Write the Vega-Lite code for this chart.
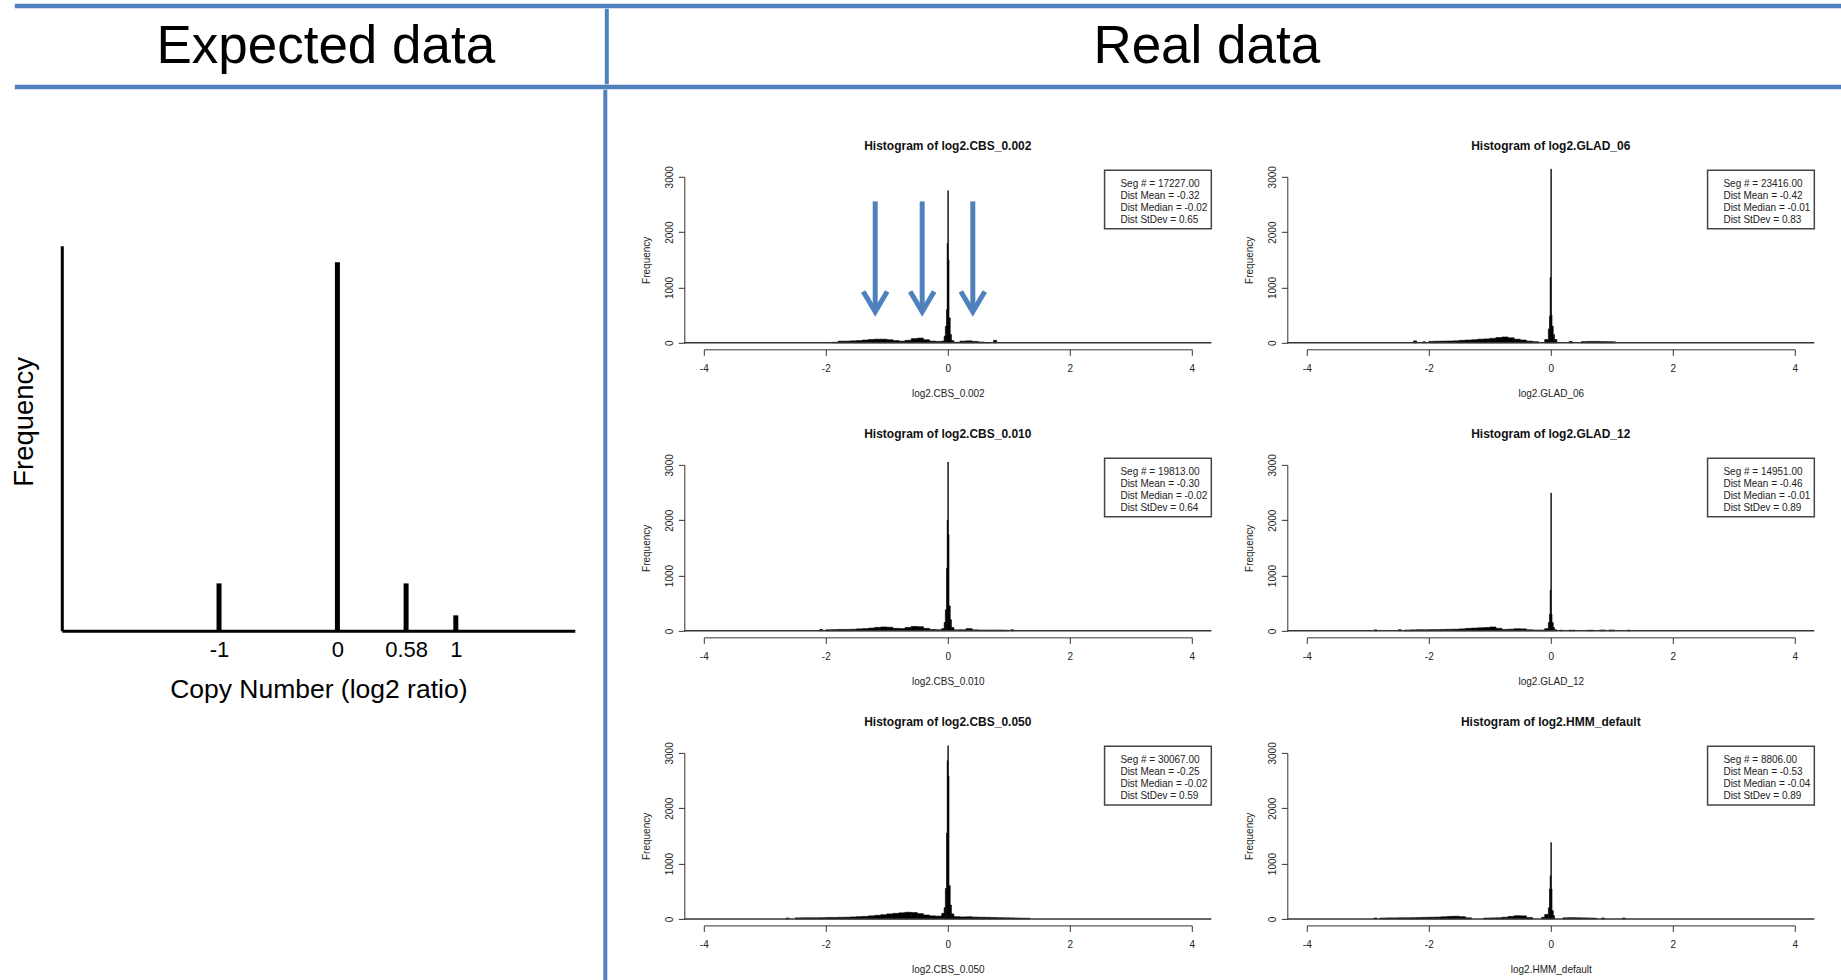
{
  "$schema": "https://vega.github.io/schema/vega-lite/v6.json",
  "background": "white",
  "padding": {"left": 8.8, "top": 3.75, "right": 0, "bottom": 0},
  "config": {
    "font": "Liberation Sans",
    "view": {"stroke": null},
    "axis": {"grid": false, "labelFont": "Liberation Sans", "titleFont": "Liberation Sans", "labelFontSize": 10, "titleFontSize": 10, "titleFontWeight": "normal", "domainColor": "#333333", "tickColor": "#333333", "labelColor": "#222222", "titleColor": "#222222"},
    "title": {"font": "Liberation Sans"},
    "text": {"font": "Liberation Sans"}
  },
  "datasets": {
    "CBS_0.002": [
      {"x0": -1.9, "x1": -1.8, "n": 10}, {"x0": -1.8, "x1": -1.7, "n": 30}, {"x0": -1.7, "x1": -1.6, "n": 30}, {"x0": -1.6, "x1": -1.5, "n": 35},
      {"x0": -1.5, "x1": -1.4, "n": 40}, {"x0": -1.4, "x1": -1.3, "n": 50}, {"x0": -1.3, "x1": -1.2, "n": 60}, {"x0": -1.2, "x1": -1.1, "n": 65},
      {"x0": -1.1, "x1": -1.0, "n": 65}, {"x0": -1.0, "x1": -0.9, "n": 55}, {"x0": -0.9, "x1": -0.8, "n": 40}, {"x0": -0.8, "x1": -0.7, "n": 30},
      {"x0": -0.7, "x1": -0.6, "n": 45}, {"x0": -0.6, "x1": -0.5, "n": 75}, {"x0": -0.5, "x1": -0.4, "n": 85}, {"x0": -0.4, "x1": -0.3, "n": 55},
      {"x0": -0.3, "x1": -0.2, "n": 30}, {"x0": -0.2, "x1": -0.1, "n": 25}, {"x0": -0.1, "x1": -0.06, "n": 30}, {"x0": -0.06, "x1": -0.04, "n": 120},
      {"x0": -0.04, "x1": -0.02, "n": 300}, {"x0": -0.02, "x1": -0.01, "n": 600}, {"x0": -0.01, "x1": 0, "n": 1800}, {"x0": 0, "x1": 0.01, "n": 2750},
      {"x0": 0.01, "x1": 0.02, "n": 1500}, {"x0": 0.02, "x1": 0.04, "n": 450}, {"x0": 0.04, "x1": 0.06, "n": 150}, {"x0": 0.06, "x1": 0.1, "n": 40},
      {"x0": 0.1, "x1": 0.2, "n": 10}, {"x0": 0.2, "x1": 0.3, "n": 30}, {"x0": 0.3, "x1": 0.4, "n": 35}, {"x0": 0.4, "x1": 0.5, "n": 25},
      {"x0": 0.5, "x1": 0.6, "n": 15}, {"x0": 0.6, "x1": 0.7, "n": 5}, {"x0": 0.75, "x1": 0.8, "n": 45}
    ],
    "GLAD_06": [
      {"x0": -2.25, "x1": -2.2, "n": 35}, {"x0": -2.1, "x1": -2.05, "n": 18}, {"x0": -2.0, "x1": -1.9, "n": 25}, {"x0": -1.9, "x1": -1.8, "n": 28},
      {"x0": -1.8, "x1": -1.7, "n": 30}, {"x0": -1.7, "x1": -1.6, "n": 32}, {"x0": -1.6, "x1": -1.5, "n": 35}, {"x0": -1.5, "x1": -1.4, "n": 45},
      {"x0": -1.4, "x1": -1.3, "n": 50}, {"x0": -1.3, "x1": -1.2, "n": 55}, {"x0": -1.2, "x1": -1.1, "n": 65}, {"x0": -1.1, "x1": -1.0, "n": 70},
      {"x0": -1.0, "x1": -0.9, "n": 80}, {"x0": -0.9, "x1": -0.8, "n": 95}, {"x0": -0.8, "x1": -0.7, "n": 105}, {"x0": -0.7, "x1": -0.6, "n": 90},
      {"x0": -0.6, "x1": -0.5, "n": 65}, {"x0": -0.5, "x1": -0.4, "n": 50}, {"x0": -0.4, "x1": -0.3, "n": 30}, {"x0": -0.3, "x1": -0.2, "n": 20},
      {"x0": -0.1, "x1": -0.04, "n": 60}, {"x0": -0.04, "x1": -0.02, "n": 250}, {"x0": -0.02, "x1": -0.01, "n": 480}, {"x0": -0.01, "x1": 0, "n": 1180},
      {"x0": 0, "x1": 0.01, "n": 3140}, {"x0": 0.01, "x1": 0.02, "n": 500}, {"x0": 0.02, "x1": 0.04, "n": 300}, {"x0": 0.04, "x1": 0.06, "n": 150},
      {"x0": 0.06, "x1": 0.1, "n": 60}, {"x0": 0.3, "x1": 0.35, "n": 25}, {"x0": 0.5, "x1": 0.6, "n": 22}, {"x0": 0.6, "x1": 0.7, "n": 25},
      {"x0": 0.7, "x1": 0.8, "n": 25}, {"x0": 0.8, "x1": 0.9, "n": 22}, {"x0": 0.9, "x1": 1.0, "n": 20}, {"x0": 1.0, "x1": 1.06, "n": 18}
    ],
    "CBS_0.010": [
      {"x0": -2.1, "x1": -2.05, "n": 25}, {"x0": -2.0, "x1": -1.9, "n": 20}, {"x0": -1.9, "x1": -1.8, "n": 22}, {"x0": -1.8, "x1": -1.7, "n": 25},
      {"x0": -1.7, "x1": -1.6, "n": 25}, {"x0": -1.6, "x1": -1.5, "n": 28}, {"x0": -1.5, "x1": -1.4, "n": 35}, {"x0": -1.4, "x1": -1.3, "n": 40},
      {"x0": -1.3, "x1": -1.2, "n": 50}, {"x0": -1.2, "x1": -1.1, "n": 62}, {"x0": -1.1, "x1": -1.0, "n": 70}, {"x0": -1.0, "x1": -0.9, "n": 65},
      {"x0": -0.9, "x1": -0.8, "n": 45}, {"x0": -0.8, "x1": -0.7, "n": 40}, {"x0": -0.7, "x1": -0.6, "n": 60}, {"x0": -0.6, "x1": -0.5, "n": 80},
      {"x0": -0.5, "x1": -0.4, "n": 75}, {"x0": -0.4, "x1": -0.3, "n": 45}, {"x0": -0.3, "x1": -0.2, "n": 25}, {"x0": -0.2, "x1": -0.1, "n": 20},
      {"x0": -0.1, "x1": -0.06, "n": 40}, {"x0": -0.06, "x1": -0.04, "n": 150}, {"x0": -0.04, "x1": -0.02, "n": 380}, {"x0": -0.02, "x1": -0.01, "n": 1130},
      {"x0": -0.01, "x1": 0, "n": 2000}, {"x0": 0, "x1": 0.01, "n": 3050}, {"x0": 0.01, "x1": 0.02, "n": 1740}, {"x0": 0.02, "x1": 0.04, "n": 450},
      {"x0": 0.04, "x1": 0.06, "n": 200}, {"x0": 0.06, "x1": 0.1, "n": 60}, {"x0": 0.1, "x1": 0.2, "n": 18}, {"x0": 0.2, "x1": 0.3, "n": 20},
      {"x0": 0.3, "x1": 0.4, "n": 40}, {"x0": 0.4, "x1": 0.5, "n": 18}, {"x0": 0.5, "x1": 0.6, "n": 15}, {"x0": 0.6, "x1": 0.7, "n": 15},
      {"x0": 0.7, "x1": 0.8, "n": 15}, {"x0": 0.8, "x1": 0.9, "n": 15}, {"x0": 0.9, "x1": 1.0, "n": 12}, {"x0": 1.03, "x1": 1.08, "n": 20}
    ],
    "GLAD_12": [
      {"x0": -2.9, "x1": -2.85, "n": 18}, {"x0": -2.5, "x1": -2.45, "n": 20}, {"x0": -2.4, "x1": -2.3, "n": 15}, {"x0": -2.3, "x1": -2.2, "n": 18},
      {"x0": -2.2, "x1": -2.1, "n": 20}, {"x0": -2.1, "x1": -2.0, "n": 20}, {"x0": -2.0, "x1": -1.9, "n": 22}, {"x0": -1.9, "x1": -1.8, "n": 22},
      {"x0": -1.8, "x1": -1.7, "n": 25}, {"x0": -1.7, "x1": -1.6, "n": 28}, {"x0": -1.6, "x1": -1.5, "n": 30}, {"x0": -1.5, "x1": -1.4, "n": 35},
      {"x0": -1.4, "x1": -1.3, "n": 45}, {"x0": -1.3, "x1": -1.2, "n": 50}, {"x0": -1.2, "x1": -1.1, "n": 55}, {"x0": -1.1, "x1": -1.0, "n": 60},
      {"x0": -1.0, "x1": -0.9, "n": 70}, {"x0": -0.9, "x1": -0.8, "n": 45}, {"x0": -0.8, "x1": -0.7, "n": 25}, {"x0": -0.7, "x1": -0.6, "n": 30},
      {"x0": -0.6, "x1": -0.5, "n": 38}, {"x0": -0.5, "x1": -0.4, "n": 35}, {"x0": -0.4, "x1": -0.3, "n": 20}, {"x0": -0.3, "x1": -0.2, "n": 15},
      {"x0": -0.2, "x1": -0.1, "n": 15}, {"x0": -0.1, "x1": -0.04, "n": 40}, {"x0": -0.04, "x1": -0.02, "n": 150}, {"x0": -0.02, "x1": -0.01, "n": 300},
      {"x0": -0.01, "x1": 0, "n": 735}, {"x0": 0, "x1": 0.01, "n": 2490}, {"x0": 0.01, "x1": 0.02, "n": 300}, {"x0": 0.02, "x1": 0.04, "n": 150},
      {"x0": 0.04, "x1": 0.06, "n": 60}, {"x0": 0.06, "x1": 0.1, "n": 20}, {"x0": 0.15, "x1": 0.2, "n": 12}, {"x0": 0.3, "x1": 0.4, "n": 12},
      {"x0": 0.6, "x1": 0.7, "n": 12}, {"x0": 0.8, "x1": 0.9, "n": 15}, {"x0": 0.95, "x1": 1.05, "n": 15}, {"x0": 1.25, "x1": 1.3, "n": 12}
    ],
    "CBS_0.050": [
      {"x0": -2.65, "x1": -2.6, "n": 15}, {"x0": -2.5, "x1": -2.4, "n": 18}, {"x0": -2.4, "x1": -2.3, "n": 20}, {"x0": -2.3, "x1": -2.2, "n": 20},
      {"x0": -2.2, "x1": -2.1, "n": 20}, {"x0": -2.1, "x1": -2.0, "n": 22}, {"x0": -2.0, "x1": -1.9, "n": 25}, {"x0": -1.9, "x1": -1.8, "n": 25},
      {"x0": -1.8, "x1": -1.7, "n": 28}, {"x0": -1.7, "x1": -1.6, "n": 30}, {"x0": -1.6, "x1": -1.5, "n": 35}, {"x0": -1.5, "x1": -1.4, "n": 40},
      {"x0": -1.4, "x1": -1.3, "n": 45}, {"x0": -1.3, "x1": -1.2, "n": 55}, {"x0": -1.2, "x1": -1.1, "n": 65}, {"x0": -1.1, "x1": -1.0, "n": 75},
      {"x0": -1.0, "x1": -0.9, "n": 90}, {"x0": -0.9, "x1": -0.8, "n": 100}, {"x0": -0.8, "x1": -0.7, "n": 110}, {"x0": -0.7, "x1": -0.6, "n": 120},
      {"x0": -0.6, "x1": -0.5, "n": 115}, {"x0": -0.5, "x1": -0.4, "n": 95}, {"x0": -0.4, "x1": -0.3, "n": 70}, {"x0": -0.3, "x1": -0.2, "n": 55},
      {"x0": -0.2, "x1": -0.1, "n": 50}, {"x0": -0.1, "x1": -0.06, "n": 100}, {"x0": -0.06, "x1": -0.04, "n": 200}, {"x0": -0.04, "x1": -0.02, "n": 550},
      {"x0": -0.02, "x1": -0.01, "n": 1550}, {"x0": -0.01, "x1": 0, "n": 2860}, {"x0": 0, "x1": 0.01, "n": 3130}, {"x0": 0.01, "x1": 0.02, "n": 2580},
      {"x0": 0.02, "x1": 0.04, "n": 600}, {"x0": 0.04, "x1": 0.06, "n": 250}, {"x0": 0.06, "x1": 0.1, "n": 90}, {"x0": 0.1, "x1": 0.2, "n": 40},
      {"x0": 0.2, "x1": 0.3, "n": 35}, {"x0": 0.3, "x1": 0.4, "n": 38}, {"x0": 0.4, "x1": 0.5, "n": 32}, {"x0": 0.5, "x1": 0.6, "n": 30},
      {"x0": 0.6, "x1": 0.7, "n": 28}, {"x0": 0.7, "x1": 0.8, "n": 25}, {"x0": 0.8, "x1": 0.9, "n": 22}, {"x0": 0.9, "x1": 1.0, "n": 20},
      {"x0": 1.0, "x1": 1.1, "n": 18}, {"x0": 1.1, "x1": 1.2, "n": 15}, {"x0": 1.2, "x1": 1.35, "n": 12}
    ],
    "HMM_default": [
      {"x0": -2.9, "x1": -2.85, "n": 15}, {"x0": -2.8, "x1": -2.7, "n": 15}, {"x0": -2.7, "x1": -2.6, "n": 18}, {"x0": -2.6, "x1": -2.5, "n": 18},
      {"x0": -2.5, "x1": -2.4, "n": 20}, {"x0": -2.4, "x1": -2.3, "n": 20}, {"x0": -2.3, "x1": -2.2, "n": 22}, {"x0": -2.2, "x1": -2.1, "n": 25},
      {"x0": -2.1, "x1": -2.0, "n": 28}, {"x0": -2.0, "x1": -1.9, "n": 30}, {"x0": -1.9, "x1": -1.8, "n": 32}, {"x0": -1.8, "x1": -1.7, "n": 38},
      {"x0": -1.7, "x1": -1.6, "n": 45}, {"x0": -1.6, "x1": -1.5, "n": 48}, {"x0": -1.5, "x1": -1.4, "n": 40}, {"x0": -1.4, "x1": -1.3, "n": 20},
      {"x0": -1.1, "x1": -1.0, "n": 15}, {"x0": -1.0, "x1": -0.9, "n": 18}, {"x0": -0.9, "x1": -0.8, "n": 20}, {"x0": -0.8, "x1": -0.7, "n": 30},
      {"x0": -0.7, "x1": -0.6, "n": 45}, {"x0": -0.6, "x1": -0.5, "n": 58}, {"x0": -0.5, "x1": -0.4, "n": 55}, {"x0": -0.4, "x1": -0.3, "n": 25},
      {"x0": -0.15, "x1": -0.1, "n": 30}, {"x0": -0.1, "x1": -0.04, "n": 80}, {"x0": -0.04, "x1": -0.02, "n": 200}, {"x0": -0.02, "x1": -0.01, "n": 540},
      {"x0": -0.01, "x1": 0, "n": 780}, {"x0": 0, "x1": 0.01, "n": 1380}, {"x0": 0.01, "x1": 0.02, "n": 540}, {"x0": 0.02, "x1": 0.04, "n": 150},
      {"x0": 0.04, "x1": 0.06, "n": 60}, {"x0": 0.2, "x1": 0.3, "n": 20}, {"x0": 0.3, "x1": 0.4, "n": 22}, {"x0": 0.4, "x1": 0.5, "n": 20},
      {"x0": 0.5, "x1": 0.6, "n": 18}, {"x0": 0.6, "x1": 0.7, "n": 15}, {"x0": 0.7, "x1": 0.75, "n": 12}, {"x0": 0.83, "x1": 0.88, "n": 15},
      {"x0": 1.17, "x1": 1.22, "n": 15}
    ]
  },
  "vconcat": [
    {
      "hconcat": [
        {"width": 5.2, "height": 1, "data": {"values": []}, "mark": "point"},
        {
          "vconcat": [
            {"width": 1827, "height": 4.5, "data": {"values": [{}]}, "mark": {"type": "rect", "color": "#4F81BD"}, "encoding": {"x": {"datum": 0, "scale": {"domain": [0, 1]}, "axis": null}, "x2": {"datum": 1}, "y": {"datum": 0, "scale": {"domain": [0, 1]}, "axis": null}, "y2": {"datum": 1}}},
            {
              "hconcat": [
                {"width": 590, "height": 75.5, "data": {"values": [{"t": "Expected data"}]}, "mark": {"type": "text", "fontSize": 53, "font": "Liberation Sans", "baseline": "middle", "dx": 16, "color": "#000000"}, "encoding": {"text": {"field": "t"}}},
                {"width": 4, "height": 75.5, "data": {"values": [{}]}, "mark": {"type": "rect", "color": "#4F81BD"}, "encoding": {"x": {"datum": 0, "scale": {"domain": [0, 1]}, "axis": null}, "x2": {"datum": 1}, "y": {"datum": 0, "scale": {"domain": [0, 1]}, "axis": null}, "y2": {"datum": 1}}},
                {"width": 1233, "height": 75.5, "data": {"values": [{"t": "Real data"}]}, "mark": {"type": "text", "fontSize": 53, "font": "Liberation Sans", "baseline": "middle", "dx": -18.5, "color": "#000000"}, "encoding": {"text": {"field": "t"}}}
              ],
              "spacing": 0
            },
            {"width": 1827, "height": 4.5, "data": {"values": [{}]}, "mark": {"type": "rect", "color": "#4F81BD"}, "encoding": {"x": {"datum": 0, "scale": {"domain": [0, 1]}, "axis": null}, "x2": {"datum": 1}, "y": {"datum": 0, "scale": {"domain": [0, 1]}, "axis": null}, "y2": {"datum": 1}}}
          ],
          "spacing": 0
        }
      ],
      "spacing": 0
    },
    {
      "hconcat": [
        {"width": 0.01, "height": 1, "data": {"values": []}, "mark": "point"},
        {
          "hconcat": [
            {
              "vconcat": [
                {"width": 1, "height": 155.25, "data": {"values": []}, "mark": "point"},
                {
                  "width": 513, "height": 385,
                  "data": {"values": [{"cn": -1, "freq": 12.3}, {"cn": 0, "freq": 95.7}, {"cn": 0.58, "freq": 12.3}, {"cn": 1, "freq": 4.0}]},
                  "mark": {"type": "bar", "color": "#000000", "width": 5, "orient": "vertical"},
                  "encoding": {
                    "x": {"field": "cn", "type": "quantitative", "scale": {"domain": [-2.328, 2.005], "nice": false, "zero": false, "padding": 0},
                      "axis": {"title": "Copy Number (log2 ratio)", "values": [-1, 0, 0.58, 1], "labelExpr": "'' + datum.value", "domainColor": "#000000", "domainWidth": 3, "ticks": false, "tickSize": 0, "labelFontSize": 22, "labelColor": "#000000", "labelPadding": 8.3, "labelFlush": false, "labelOverlap": false, "titleFontSize": 26.5, "titleColor": "#000000", "titlePadding": 16.2, "titleFontWeight": "normal"}},
                    "y": {"field": "freq", "type": "quantitative", "scale": {"domain": [0, 100], "nice": false, "padding": 0},
                      "axis": {"title": "Frequency", "labels": false, "ticks": false, "tickSize": 0, "domainColor": "#000000", "domainWidth": 3, "titleFontSize": 27.5, "titleColor": "#000000", "titlePadding": 23.4, "titleFontWeight": "normal", "titleY": 175.6}}
                  }
                }
              ],
              "spacing": 0
            },
            {
              "hconcat": [
                {"width": 4, "height": 895, "data": {"values": [{}]}, "mark": {"type": "rect", "color": "#4F81BD"}, "encoding": {"x": {"datum": 0, "scale": {"domain": [0, 1]}, "axis": null}, "x2": {"datum": 1}, "y": {"datum": 0, "scale": {"domain": [0, 1]}, "axis": null}, "y2": {"datum": 1}}},
                {"width": 5, "height": 1, "data": {"values": []}, "mark": "point"}
              ],
              "spacing": 0
            },
            {
              "vconcat": [
                {"width": 1, "height": 20.4, "data": {"values": []}, "mark": "point"},
                {
                  "hconcat": [
                    {
                      "width": 488, "height": 166,
                      "title": {"text": "Histogram of log2.CBS_0.002", "fontSize": 12, "fontWeight": "bold", "anchor": "middle", "frame": "group", "offset": 13, "color": "#111111"},
                      "layer": [
                        {"data": {"name": "CBS_0.002"}, "mark": {"type": "bar", "color": "#000000", "stroke": "#000000", "strokeWidth": 0.6, "orient": "vertical"},
                          "encoding": {
                            "x": {"field": "x0", "type": "quantitative", "scale": {"domain": [-4, 4], "nice": false, "zero": false, "padding": 0}, "axis": {"title": "log2.CBS_0.002", "values": [-4, -2, 0, 2, 4], "labelExpr": "'' + datum.value", "offset": 6.5, "tickSize": 6, "labelPadding": 8, "titlePadding": 15, "labelFlush": false, "labelOverlap": false}},
                            "x2": {"field": "x1"},
                            "y": {"field": "n", "type": "quantitative", "scale": {"domain": [0, 3000], "nice": false, "padding": 0}, "axis": {"title": "Frequency", "values": [0, 500, 1000, 1500, 2000, 2500, 3000], "labelExpr": "datum.value == 1500 || datum.value == 2500 ? '' : '' + datum.value", "offset": 19.5, "tickSize": 6, "labelAngle": 270, "labelAlign": "center", "labelBaseline": "bottom", "labelPadding": 4, "titlePadding": 12.7, "labelOverlap": false}}
                          }},
                        {"data": {"values": [{}]}, "mark": {"type": "rule", "color": "#333333", "strokeWidth": 1.5}, "encoding": {"x": {"datum": -4.32}, "x2": {"datum": 4.32}, "y": {"datum": 0}}},
                        {"data": {"values": [{"cn": -1.19}, {"cn": -0.42}, {"cn": 0.41}]}, "mark": {"type": "rule", "color": "#4F81BD", "strokeWidth": 5}, "encoding": {"x": {"field": "cn", "type": "quantitative"}, "y": {"datum": 2555}, "y2": {"datum": 640}}},
                        {"data": {"values": [{"cn": -1.19}, {"cn": -0.42}, {"cn": 0.41}]}, "mark": {"type": "point", "shape": "M-1,-0.85L0,0.85L1,-0.85", "size": 576, "filled": false, "stroke": "#4F81BD", "strokeWidth": 5, "strokeJoin": "miter", "opacity": 1}, "encoding": {"x": {"field": "cn", "type": "quantitative"}, "y": {"datum": 744}}},
                        {"data": {"values": [{}]}, "mark": {"type": "rect", "fill": "#ffffff", "stroke": "#444444", "strokeWidth": 1.5}, "encoding": {"x": {"datum": 2.57}, "x2": {"datum": 4.32}, "y": {"datum": 2060}, "y2": {"datum": 3120}}},
                        {"data": {"values": [{"label": "Seg # = 17227.00\nDist Mean = -0.32\nDist Median = -0.02\nDist StDev = 0.65"}]}, "mark": {"type": "text", "align": "left", "baseline": "top", "fontSize": 10, "lineHeight": 12, "lineBreak": "\n", "color": "#222222"}, "encoding": {"text": {"field": "label"}, "x": {"datum": 2.83}, "y": {"datum": 2965}}}
                      ]
                    },
                    {
                      "width": 488, "height": 166,
                      "title": {"text": "Histogram of log2.GLAD_06", "fontSize": 12, "fontWeight": "bold", "anchor": "middle", "frame": "group", "offset": 13, "color": "#111111"},
                      "layer": [
                        {"data": {"name": "GLAD_06"}, "mark": {"type": "bar", "color": "#000000", "stroke": "#000000", "strokeWidth": 0.6, "orient": "vertical"},
                          "encoding": {
                            "x": {"field": "x0", "type": "quantitative", "scale": {"domain": [-4, 4], "nice": false, "zero": false, "padding": 0}, "axis": {"title": "log2.GLAD_06", "values": [-4, -2, 0, 2, 4], "labelExpr": "'' + datum.value", "offset": 6.5, "tickSize": 6, "labelPadding": 8, "titlePadding": 15, "labelFlush": false, "labelOverlap": false}},
                            "x2": {"field": "x1"},
                            "y": {"field": "n", "type": "quantitative", "scale": {"domain": [0, 3000], "nice": false, "padding": 0}, "axis": {"title": "Frequency", "values": [0, 500, 1000, 1500, 2000, 2500, 3000], "labelExpr": "datum.value == 1500 || datum.value == 2500 ? '' : '' + datum.value", "offset": 19.5, "tickSize": 6, "labelAngle": 270, "labelAlign": "center", "labelBaseline": "bottom", "labelPadding": 4, "titlePadding": 12.7, "labelOverlap": false}}
                          }},
                        {"data": {"values": [{}]}, "mark": {"type": "rule", "color": "#333333", "strokeWidth": 1.5}, "encoding": {"x": {"datum": -4.32}, "x2": {"datum": 4.32}, "y": {"datum": 0}}},
                        {"data": {"values": [{}]}, "mark": {"type": "rect", "fill": "#ffffff", "stroke": "#444444", "strokeWidth": 1.5}, "encoding": {"x": {"datum": 2.57}, "x2": {"datum": 4.32}, "y": {"datum": 2060}, "y2": {"datum": 3120}}},
                        {"data": {"values": [{"label": "Seg # = 23416.00\nDist Mean = -0.42\nDist Median = -0.01\nDist StDev = 0.83"}]}, "mark": {"type": "text", "align": "left", "baseline": "top", "fontSize": 10, "lineHeight": 12, "lineBreak": "\n", "color": "#222222"}, "encoding": {"text": {"field": "label"}, "x": {"datum": 2.83}, "y": {"datum": 2965}}}
                      ]
                    }
                  ],
                  "spacing": 31
                },
                {
                  "hconcat": [
                    {
                      "width": 488, "height": 166,
                      "title": {"text": "Histogram of log2.CBS_0.010", "fontSize": 12, "fontWeight": "bold", "anchor": "middle", "frame": "group", "offset": 13, "color": "#111111"},
                      "layer": [
                        {"data": {"name": "CBS_0.010"}, "mark": {"type": "bar", "color": "#000000", "stroke": "#000000", "strokeWidth": 0.6, "orient": "vertical"},
                          "encoding": {
                            "x": {"field": "x0", "type": "quantitative", "scale": {"domain": [-4, 4], "nice": false, "zero": false, "padding": 0}, "axis": {"title": "log2.CBS_0.010", "values": [-4, -2, 0, 2, 4], "labelExpr": "'' + datum.value", "offset": 6.5, "tickSize": 6, "labelPadding": 8, "titlePadding": 15, "labelFlush": false, "labelOverlap": false}},
                            "x2": {"field": "x1"},
                            "y": {"field": "n", "type": "quantitative", "scale": {"domain": [0, 3000], "nice": false, "padding": 0}, "axis": {"title": "Frequency", "values": [0, 500, 1000, 1500, 2000, 2500, 3000], "labelExpr": "datum.value == 1500 || datum.value == 2500 ? '' : '' + datum.value", "offset": 19.5, "tickSize": 6, "labelAngle": 270, "labelAlign": "center", "labelBaseline": "bottom", "labelPadding": 4, "titlePadding": 12.7, "labelOverlap": false}}
                          }},
                        {"data": {"values": [{}]}, "mark": {"type": "rule", "color": "#333333", "strokeWidth": 1.5}, "encoding": {"x": {"datum": -4.32}, "x2": {"datum": 4.32}, "y": {"datum": 0}}},
                        {"data": {"values": [{}]}, "mark": {"type": "rect", "fill": "#ffffff", "stroke": "#444444", "strokeWidth": 1.5}, "encoding": {"x": {"datum": 2.57}, "x2": {"datum": 4.32}, "y": {"datum": 2060}, "y2": {"datum": 3120}}},
                        {"data": {"values": [{"label": "Seg # = 19813.00\nDist Mean = -0.30\nDist Median = -0.02\nDist StDev = 0.64"}]}, "mark": {"type": "text", "align": "left", "baseline": "top", "fontSize": 10, "lineHeight": 12, "lineBreak": "\n", "color": "#222222"}, "encoding": {"text": {"field": "label"}, "x": {"datum": 2.83}, "y": {"datum": 2965}}}
                      ]
                    },
                    {
                      "width": 488, "height": 166,
                      "title": {"text": "Histogram of log2.GLAD_12", "fontSize": 12, "fontWeight": "bold", "anchor": "middle", "frame": "group", "offset": 13, "color": "#111111"},
                      "layer": [
                        {"data": {"name": "GLAD_12"}, "mark": {"type": "bar", "color": "#000000", "stroke": "#000000", "strokeWidth": 0.6, "orient": "vertical"},
                          "encoding": {
                            "x": {"field": "x0", "type": "quantitative", "scale": {"domain": [-4, 4], "nice": false, "zero": false, "padding": 0}, "axis": {"title": "log2.GLAD_12", "values": [-4, -2, 0, 2, 4], "labelExpr": "'' + datum.value", "offset": 6.5, "tickSize": 6, "labelPadding": 8, "titlePadding": 15, "labelFlush": false, "labelOverlap": false}},
                            "x2": {"field": "x1"},
                            "y": {"field": "n", "type": "quantitative", "scale": {"domain": [0, 3000], "nice": false, "padding": 0}, "axis": {"title": "Frequency", "values": [0, 500, 1000, 1500, 2000, 2500, 3000], "labelExpr": "datum.value == 1500 || datum.value == 2500 ? '' : '' + datum.value", "offset": 19.5, "tickSize": 6, "labelAngle": 270, "labelAlign": "center", "labelBaseline": "bottom", "labelPadding": 4, "titlePadding": 12.7, "labelOverlap": false}}
                          }},
                        {"data": {"values": [{}]}, "mark": {"type": "rule", "color": "#333333", "strokeWidth": 1.5}, "encoding": {"x": {"datum": -4.32}, "x2": {"datum": 4.32}, "y": {"datum": 0}}},
                        {"data": {"values": [{}]}, "mark": {"type": "rect", "fill": "#ffffff", "stroke": "#444444", "strokeWidth": 1.5}, "encoding": {"x": {"datum": 2.57}, "x2": {"datum": 4.32}, "y": {"datum": 2060}, "y2": {"datum": 3120}}},
                        {"data": {"values": [{"label": "Seg # = 14951.00\nDist Mean = -0.46\nDist Median = -0.01\nDist StDev = 0.89"}]}, "mark": {"type": "text", "align": "left", "baseline": "top", "fontSize": 10, "lineHeight": 12, "lineBreak": "\n", "color": "#222222"}, "encoding": {"text": {"field": "label"}, "x": {"datum": 2.83}, "y": {"datum": 2965}}}
                      ]
                    }
                  ],
                  "spacing": 31
                },
                {
                  "hconcat": [
                    {
                      "width": 488, "height": 166,
                      "title": {"text": "Histogram of log2.CBS_0.050", "fontSize": 12, "fontWeight": "bold", "anchor": "middle", "frame": "group", "offset": 13, "color": "#111111"},
                      "layer": [
                        {"data": {"name": "CBS_0.050"}, "mark": {"type": "bar", "color": "#000000", "stroke": "#000000", "strokeWidth": 0.6, "orient": "vertical"},
                          "encoding": {
                            "x": {"field": "x0", "type": "quantitative", "scale": {"domain": [-4, 4], "nice": false, "zero": false, "padding": 0}, "axis": {"title": "log2.CBS_0.050", "values": [-4, -2, 0, 2, 4], "labelExpr": "'' + datum.value", "offset": 6.5, "tickSize": 6, "labelPadding": 8, "titlePadding": 15, "labelFlush": false, "labelOverlap": false}},
                            "x2": {"field": "x1"},
                            "y": {"field": "n", "type": "quantitative", "scale": {"domain": [0, 3000], "nice": false, "padding": 0}, "axis": {"title": "Frequency", "values": [0, 500, 1000, 1500, 2000, 2500, 3000], "labelExpr": "datum.value == 1500 || datum.value == 2500 ? '' : '' + datum.value", "offset": 19.5, "tickSize": 6, "labelAngle": 270, "labelAlign": "center", "labelBaseline": "bottom", "labelPadding": 4, "titlePadding": 12.7, "labelOverlap": false}}
                          }},
                        {"data": {"values": [{}]}, "mark": {"type": "rule", "color": "#333333", "strokeWidth": 1.5}, "encoding": {"x": {"datum": -4.32}, "x2": {"datum": 4.32}, "y": {"datum": 0}}},
                        {"data": {"values": [{}]}, "mark": {"type": "rect", "fill": "#ffffff", "stroke": "#444444", "strokeWidth": 1.5}, "encoding": {"x": {"datum": 2.57}, "x2": {"datum": 4.32}, "y": {"datum": 2060}, "y2": {"datum": 3120}}},
                        {"data": {"values": [{"label": "Seg # = 30067.00\nDist Mean = -0.25\nDist Median = -0.02\nDist StDev = 0.59"}]}, "mark": {"type": "text", "align": "left", "baseline": "top", "fontSize": 10, "lineHeight": 12, "lineBreak": "\n", "color": "#222222"}, "encoding": {"text": {"field": "label"}, "x": {"datum": 2.83}, "y": {"datum": 2965}}}
                      ]
                    },
                    {
                      "width": 488, "height": 166,
                      "title": {"text": "Histogram of log2.HMM_default", "fontSize": 12, "fontWeight": "bold", "anchor": "middle", "frame": "group", "offset": 13, "color": "#111111"},
                      "layer": [
                        {"data": {"name": "HMM_default"}, "mark": {"type": "bar", "color": "#000000", "stroke": "#000000", "strokeWidth": 0.6, "orient": "vertical"},
                          "encoding": {
                            "x": {"field": "x0", "type": "quantitative", "scale": {"domain": [-4, 4], "nice": false, "zero": false, "padding": 0}, "axis": {"title": "log2.HMM_default", "values": [-4, -2, 0, 2, 4], "labelExpr": "'' + datum.value", "offset": 6.5, "tickSize": 6, "labelPadding": 8, "titlePadding": 15, "labelFlush": false, "labelOverlap": false}},
                            "x2": {"field": "x1"},
                            "y": {"field": "n", "type": "quantitative", "scale": {"domain": [0, 3000], "nice": false, "padding": 0}, "axis": {"title": "Frequency", "values": [0, 500, 1000, 1500, 2000, 2500, 3000], "labelExpr": "datum.value == 1500 || datum.value == 2500 ? '' : '' + datum.value", "offset": 19.5, "tickSize": 6, "labelAngle": 270, "labelAlign": "center", "labelBaseline": "bottom", "labelPadding": 4, "titlePadding": 12.7, "labelOverlap": false}}
                          }},
                        {"data": {"values": [{}]}, "mark": {"type": "rule", "color": "#333333", "strokeWidth": 1.5}, "encoding": {"x": {"datum": -4.32}, "x2": {"datum": 4.32}, "y": {"datum": 0}}},
                        {"data": {"values": [{}]}, "mark": {"type": "rect", "fill": "#ffffff", "stroke": "#444444", "strokeWidth": 1.5}, "encoding": {"x": {"datum": 2.57}, "x2": {"datum": 4.32}, "y": {"datum": 2060}, "y2": {"datum": 3120}}},
                        {"data": {"values": [{"label": "Seg # = 8806.00\nDist Mean = -0.53\nDist Median = -0.04\nDist StDev = 0.89"}]}, "mark": {"type": "text", "align": "left", "baseline": "top", "fontSize": 10, "lineHeight": 12, "lineBreak": "\n", "color": "#222222"}, "encoding": {"text": {"field": "label"}, "x": {"datum": 2.83}, "y": {"datum": 2965}}}
                      ]
                    }
                  ],
                  "spacing": 31
                }
              ],
              "spacing": 28.05
            }
          ],
          "spacing": 28.5
        }
      ],
      "spacing": 0
    }
  ],
  "spacing": 0
}
